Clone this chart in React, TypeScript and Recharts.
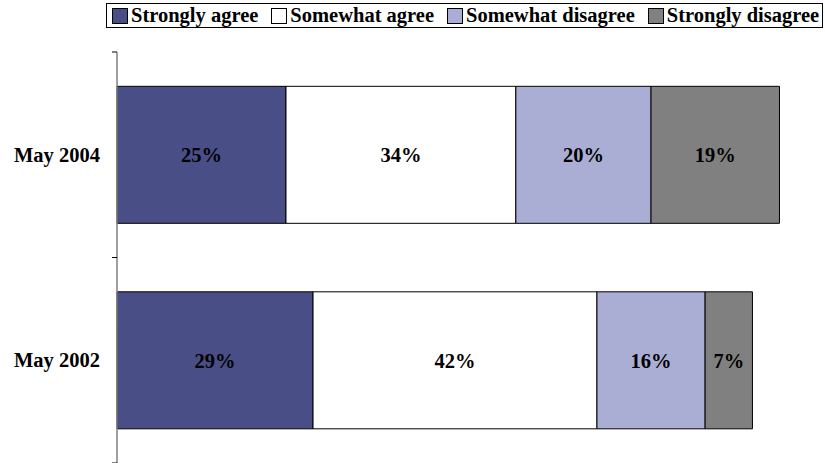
import React from 'react';
import { BarChart, Bar, XAxis, YAxis, LabelList } from 'recharts';

const categories = ['May 2004', 'May 2002'];
const stronglyAgree = [25, 29];
const somewhatAgree = [34, 42];
const somewhatDisagree = [20, 16];
const stronglyDisagree = [19, 7];

const seriesNames = ['Strongly agree', 'Somewhat agree', 'Somewhat disagree', 'Strongly disagree'];
const seriesKeys = ['sa', 'swa', 'swd', 'sd'];
const seriesColors = ['#4a4e87', '#ffffff', '#abaed4', '#808080'];

const data = categories.map((c, i) => ({
  name: c,
  sa: stronglyAgree[i],
  swa: somewhatAgree[i],
  swd: somewhatDisagree[i],
  sd: stronglyDisagree[i],
}));

const FONT = 'Liberation Serif, Times New Roman, Times, serif';
const BAND = 205.5;

const YTick = (props: any) => {
  const { x, y, payload, index } = props;
  return (
    <g>
      <line x1={112} x2={117} y1={y - BAND / 2} y2={y - BAND / 2} stroke="#000" />
      {index === categories.length - 1 && (
        <line x1={112} x2={117} y1={y + BAND / 2} y2={y + BAND / 2} stroke="#000" />
      )}
      <text x={100} y={y + 7} textAnchor="end" fontFamily={FONT} fontWeight="bold" fontSize={20.5} fill="#000">
        {payload.value}
      </text>
    </g>
  );
};

const LegendBox = () => (
  <div
    style={{
      position: 'absolute',
      top: 3,
      left: 106,
      width: 717,
      border: '1px solid #000',
      boxSizing: 'border-box',
      height: 25,
      display: 'flex',
      alignItems: 'center',
      paddingLeft: 5,
      fontFamily: FONT,
      fontWeight: 'bold',
      fontSize: 20.5,
      background: '#fff',
      whiteSpace: 'nowrap',
      overflow: 'hidden',
    }}
  >
    {seriesNames.map((n, i) => (
      <div key={n} style={{ display: 'flex', alignItems: 'center', marginRight: 13 }}>
        <span
          style={{
            display: 'inline-block',
            width: 14,
            height: 14,
            border: '1px solid #000',
            background: seriesColors[i],
            marginRight: 3,
          }}
        />
        <span>{n}</span>
      </div>
    ))}
  </div>
);

export default function App() {
  return (
    <div style={{ position: 'absolute', left: 0, top: 0, width: 825, height: 463, background: '#fff' }}>
      <BarChart
        width={825}
        height={463}
        data={data}
        layout="vertical"
        margin={{ top: 52, right: 32, bottom: 0, left: 0 }}
        barCategoryGap="16.7%"
      >
        <XAxis type="number" domain={[0, 100]} hide />
        <YAxis
          type="category"
          dataKey="name"
          width={117}
          tickLine={false}
          axisLine={{ stroke: '#808080', strokeWidth: 1.5 }}
          tick={<YTick />}
          interval={0}
        />
        {seriesKeys.map((k, i) => (
          <Bar
            key={k}
            dataKey={k}
            stackId="a"
            fill={seriesColors[i]}
            stroke="#000"
            strokeWidth={1}
            isAnimationActive={false}
          >
            <LabelList
              dataKey={k}
              position="center"
              formatter={(v: any) => `${v}%`}
              style={{ fontFamily: FONT, fontWeight: 'bold', fontSize: 20.5, fill: '#000' }}
            />
          </Bar>
        ))}
      </BarChart>
      <LegendBox />
    </div>
  );
}
